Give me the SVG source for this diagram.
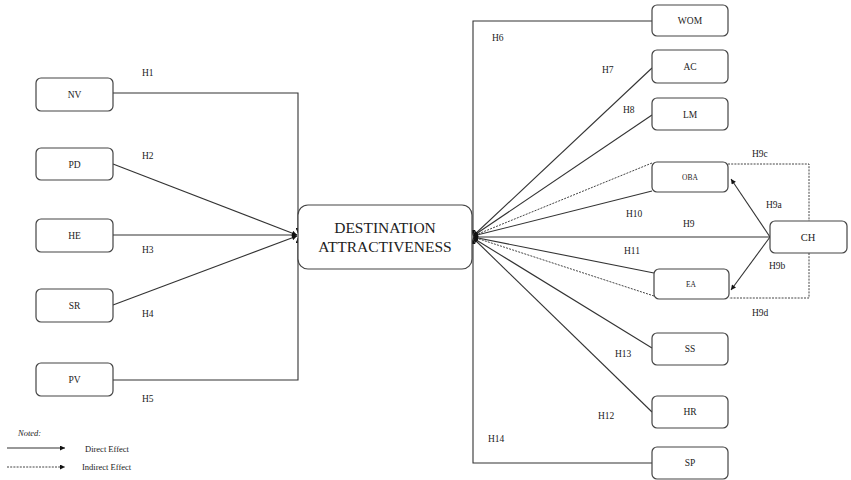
<svg xmlns="http://www.w3.org/2000/svg" width="851" height="480" viewBox="0 0 851 480">
<defs>
<marker id="arr" viewBox="0 0 10 10" refX="10" refY="5" markerWidth="6" markerHeight="5" markerUnits="userSpaceOnUse" orient="auto">
<path d="M0,0 L10,5 L0,10 z" fill="#111"/>
</marker>
<style>
.box{fill:#fff;stroke:#444;stroke-width:1.2}
.ln{fill:none;stroke:#333;stroke-width:1.1}
.dt{fill:none;stroke:#444;stroke-width:1;stroke-dasharray:2,1.2}
.t{font-family:'Liberation Serif','Times New Roman',serif;fill:#222}
.nl{font-size:9.5px;text-anchor:middle}
.sm{font-size:7.5px;text-anchor:middle}
.hl{font-size:9.5px}
.big{font-size:15.5px;text-anchor:middle}
</style>
</defs>
<rect width="851" height="480" fill="#fff"/>
<g id="connectors">
<path class="ln" d="M113,93 H298 V233" marker-end="url(#arr)"/>
<path class="ln" d="M113,164 L297,235" marker-end="url(#arr)"/>
<path class="ln" d="M113,235 L297,235" marker-end="url(#arr)"/>
<path class="ln" d="M113,305 L297,236" marker-end="url(#arr)"/>
<path class="ln" d="M113,380 H298 V238" marker-end="url(#arr)"/>
<path class="ln" d="M652,21 H473 V235" marker-end="url(#arr)"/>
<path class="ln" d="M652,68 L473,236" marker-end="url(#arr)"/>
<path class="ln" d="M652,115 L473,236" marker-end="url(#arr)"/>
<path class="dt" d="M652,163 L473,236" marker-end="url(#arr)"/>
<path class="ln" d="M652,191 L473,236" marker-end="url(#arr)"/>
<path class="ln" d="M770,237 L473,237" marker-end="url(#arr)"/>
<path class="ln" d="M654,273 L473,237" marker-end="url(#arr)"/>
<path class="dt" d="M654,296 L473,237" marker-end="url(#arr)"/>
<path class="ln" d="M652,348 L473,238" marker-end="url(#arr)"/>
<path class="ln" d="M652,412 L473,238" marker-end="url(#arr)"/>
<path class="ln" d="M652,463 H473 V239" marker-end="url(#arr)"/>
<path class="ln" d="M770,237 L731,179" marker-end="url(#arr)"/>
<path class="ln" d="M770,237 L731,290" marker-end="url(#arr)"/>
<path class="dt" d="M728,164 H809 V221"/>
<path class="dt" d="M809,253 V298 H729"/>
</g>
<g class="t" font-family="'Liberation Serif', 'Times New Roman', serif">
<g id="NV"><rect class="box" x="36" y="78" width="77" height="33" rx="5"/><text class="nl" x="74.5" y="98">NV</text></g>
<g id="PD"><rect class="box" x="36" y="148" width="77" height="32" rx="5"/><text class="nl" x="74.5" y="167.5">PD</text></g>
<g id="HE"><rect class="box" x="36" y="219" width="77" height="33" rx="5"/><text class="nl" x="74.5" y="238.5">HE</text></g>
<g id="SR"><rect class="box" x="36" y="289" width="77" height="33" rx="5"/><text class="nl" x="74.5" y="308.5">SR</text></g>
<g id="PV"><rect class="box" x="36" y="363" width="77" height="33" rx="5"/><text class="nl" x="74.5" y="383">PV</text></g>
<g id="DA"><rect class="box" x="298" y="205" width="174" height="64" rx="10"/><text class="big" x="385" y="233">DESTINATION</text><text class="big" x="385" y="252">ATTRACTIVENESS</text></g>
<g id="WOM"><rect class="box" x="652" y="5" width="76" height="31" rx="5"/><text class="nl" x="690" y="24">WOM</text></g>
<g id="AC"><rect class="box" x="652" y="50" width="76" height="33" rx="5"/><text class="nl" x="690" y="69.5">AC</text></g>
<g id="LM"><rect class="box" x="652" y="98" width="76" height="32" rx="5"/><text class="nl" x="690" y="117.5">LM</text></g>
<g id="OBA"><rect class="box" x="652" y="162" width="76" height="30" rx="5"/><text class="sm" x="690" y="179.5">OBA</text></g>
<g id="EA"><rect class="box" x="654" y="269" width="75" height="30" rx="5"/><text class="sm" x="691" y="287">EA</text></g>
<g id="CH"><rect class="box" x="770" y="221" width="77" height="32" rx="5"/><text class="nl" x="808" y="241" style="font-size:10.5px">CH</text></g>
<g id="SS"><rect class="box" x="652" y="333" width="76" height="32" rx="5"/><text class="nl" x="690" y="352">SS</text></g>
<g id="HR"><rect class="box" x="652" y="396" width="76" height="32" rx="5"/><text class="nl" x="690" y="415">HR</text></g>
<g id="SP"><rect class="box" x="652" y="447" width="76" height="32" rx="5"/><text class="nl" x="690" y="466">SP</text></g>
<g id="labels">
<text class="hl" x="142" y="76">H1</text>
<text class="hl" x="142" y="159">H2</text>
<text class="hl" x="142" y="253">H3</text>
<text class="hl" x="142" y="317">H4</text>
<text class="hl" x="142" y="402">H5</text>
<text class="hl" x="492" y="41">H6</text>
<text class="hl" x="602" y="73">H7</text>
<text class="hl" x="623" y="113">H8</text>
<text class="hl" x="752" y="157">H9c</text>
<text class="hl" x="766" y="208">H9a</text>
<text class="hl" x="626" y="217">H10</text>
<text class="hl" x="683" y="227">H9</text>
<text class="hl" x="624" y="254">H11</text>
<text class="hl" x="769" y="269">H9b</text>
<text class="hl" x="752" y="316">H9d</text>
<text class="hl" x="615" y="357">H13</text>
<text class="hl" x="598" y="419">H12</text>
<text class="hl" x="488" y="442">H14</text>
</g>
<g id="legend">
<text x="18" y="436" style="font-size:8.5px;font-style:italic">Noted:</text>
<path class="ln" d="M7,448 H65" marker-end="url(#arr)"/>
<text x="85" y="452" style="font-size:8.5px">Direct Effect</text>
<path class="dt" d="M7,467 H65" marker-end="url(#arr)"/>
<text x="82" y="470" style="font-size:8.5px">Indirect Effect</text>
</g>
</g>
</svg>
